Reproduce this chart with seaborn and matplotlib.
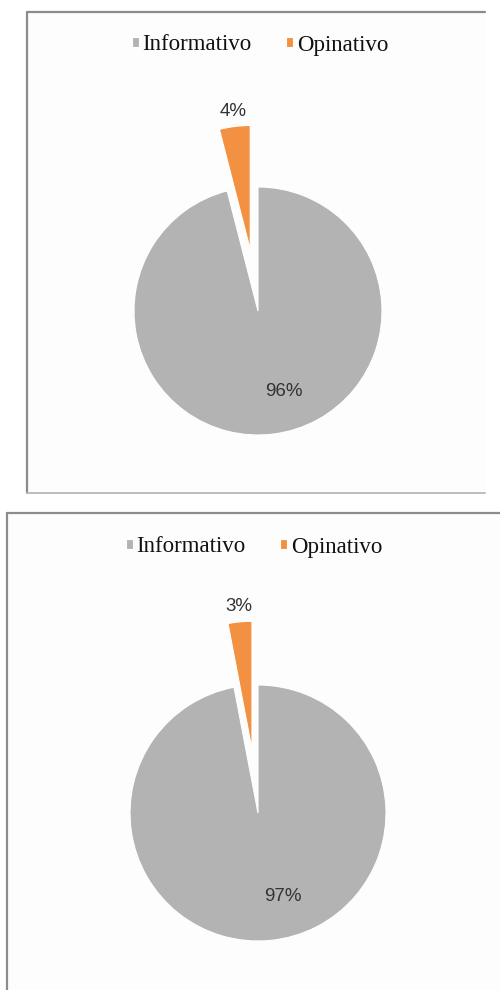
import numpy as np
import matplotlib.pyplot as plt
import seaborn as sns
from matplotlib.patches import Rectangle
from matplotlib.lines import Line2D

# stile di base
sns.set_theme(style="white")
plt.rcParams["font.family"] = ["Liberation Sans", "DejaVu Sans"]

# dati dei due grafici
categorie = ["Informativo", "Opinativo"]
valori_1 = [96, 4]
valori_2 = [97, 3]

colori = sns.color_palette(["#B3B3B3", "#F39142"])

W, H = 500, 990
fig = plt.figure(figsize=(W / 100, H / 100), dpi=100)
fig.patch.set_facecolor("white")


# cornice grigia attorno ad ogni grafico (coordinate in pixel dall'alto)
def pannello(x0, y0, x1, y1, bordo_basso=True):
    fx = lambda x: x / W
    fy = lambda y: 1 - y / H
    fig.patches.append(Rectangle((fx(x0), fy(y1)), fx(x1) - fx(x0), fy(y0) - fy(y1),
                                 transform=fig.transFigure, facecolor="#FDFDFD",
                                 edgecolor="none", zorder=-2))
    fig.lines.append(Line2D([fx(x0), fx(x1)], [fy(y0), fy(y0)], transform=fig.transFigure,
                            color="#8C8C8C", linewidth=1.6, zorder=-1))
    fig.lines.append(Line2D([fx(x0), fx(x0)], [fy(y0), fy(y1)], transform=fig.transFigure,
                            color="#8C8C8C", linewidth=1.6, zorder=-1))
    if bordo_basso:
        fig.lines.append(Line2D([fx(x0), fx(x1)], [fy(y1), fy(y1)], transform=fig.transFigure,
                                color="#BDBDBD", linewidth=1.4, zorder=-1))


# grafico a torta con la fetta piccola staccata
def torta(valori, cx, cy, r, leg_x, leg_y):
    ax = fig.add_axes([(cx - 2 * r) / W, (H - cy - 2 * r) / H, 4 * r / W, 4 * r / H])
    ax.patch.set_alpha(0)
    wedges, _, autotexts = ax.pie(
        valori,
        colors=colori,
        startangle=90,
        counterclock=False,
        explode=[0, 0.5],
        autopct="%1.0f%%",
        pctdistance=0.7,
        wedgeprops=dict(edgecolor="white", linewidth=0.8),
        textprops=dict(fontsize=13.5, color="#333333"),
    )
    for i, (w, t) in enumerate(zip(wedges, autotexts)):
        mid = (w.theta1 + w.theta2) / 2
        x0, y0 = w.center
        if i == 0:
            ang, d = np.deg2rad(mid + 11), 0.68
        else:
            ang, d = np.deg2rad(mid), 1.12
        t.set_position((x0 + d * np.cos(ang), y0 + d * np.sin(ang)))
        t.set_ha("center")
        t.set_va("center")
    ax.set_xlim(-2, 2)
    ax.set_ylim(-2, 2)
    ax.set_aspect("equal")
    ax.axis("off")

    ax.legend(wedges, categorie, loc="center", ncol=2, frameon=False,
              bbox_to_anchor=(leg_x / W, 1 - leg_y / H), bbox_transform=fig.transFigure,
              prop=dict(family=["Liberation Serif", "DejaVu Serif"], size=16.5),
              labelcolor="#111111", handlelength=0.32, handleheight=0.32,
              handletextpad=0.15, columnspacing=1.5)
    return ax


pannello(27, 12, 485, 493)
pannello(7, 513, 502, 992, bordo_basso=False)

torta(valori_1, 258, 311, 124, 260, 45)
torta(valori_2, 258, 813, 128, 254, 547)

plt.savefig("out.png", dpi=100)
